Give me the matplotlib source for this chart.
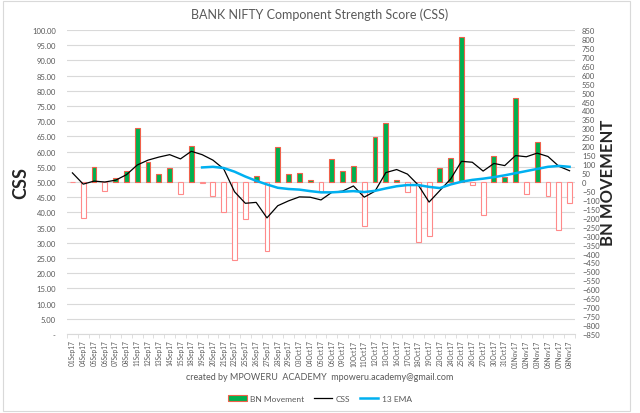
import matplotlib
matplotlib.use("Agg")
import matplotlib.pyplot as plt
import numpy as np
from matplotlib.patches import Patch, Rectangle
from matplotlib.lines import Line2D
from matplotlib.ticker import FuncFormatter

plt.rcParams['font.family'] = ['Lato', 'DejaVu Sans']

dates = ['01Sep17', '04Sep17', '05Sep17', '06Sep17', '07Sep17', '08Sep17', '11Sep17',
         '12Sep17', '13Sep17', '14Sep17', '15Sep17', '18Sep17', '19Sep17', '20Sep17',
         '21Sep17', '22Sep17', '25Sep17', '26Sep17', '27Sep17', '28Sep17', '29Sep17',
         '03Oct17', '04Oct17', '05Oct17', '06Oct17', '09Oct17', '10Oct17', '11Oct17',
         '12Oct17', '13Oct17', '16Oct17', '17Oct17', '18Oct17', '19Oct17', '23Oct17',
         '24Oct17', '25Oct17', '26Oct17', '27Oct17', '30Oct17', '31Oct17', '01Nov17',
         '02Nov17', '03Nov17', '06Nov17', '07Nov17', '08Nov17']

# BN movement (right axis, points)
bn_move = [0, -200, 86, -52, 25, 63, 300, 113, 45, 78, -69, 200, -7, -76,
           -170, -434, -209, 34, -388, 194, 43, 50, 11, -58, 129, 61, 91, -244,
           251, 328, 13, -58, -334, -304, 78, 132, 810, -17, -186, 146, 28, 468,
           -69, 223, -80, -270, -117]

# CSS (left axis)
css = [53.0, 49.3, 50.3, 50.0, 50.6, 52.4, 55.6, 57.2, 58.2, 59.0, 57.6, 60.1,
       59.0, 57.2, 54.3, 46.8, 43.0, 43.3, 38.2, 42.2, 43.8, 45.1, 45.0, 44.1,
       46.6, 47.0, 48.7, 45.0, 47.0, 53.1, 54.1, 52.6, 49.0, 43.4, 47.2, 51.0,
       56.8, 56.5, 53.6, 56.1, 55.4, 58.7, 58.3, 59.5, 58.4, 55.2, 53.7]

# 13 EMA, starts on 19Sep17
ema = [None] * 12 + [54.8, 55.0, 54.6, 53.4, 51.8, 50.4, 49.2, 48.1, 47.7, 47.5,
                     47.0, 46.6, 46.6, 46.8, 47.0, 46.7, 47.1, 47.9, 48.6, 49.0,
                     49.0, 48.4, 48.0, 49.2, 50.1, 50.7, 51.1, 51.6, 52.2, 52.9,
                     53.6, 54.3, 55.0, 55.3, 55.0]

grey = '#595959'
green = '#00B050'
pos_edge = '#F0604A'
neg_edge = '#FF8A8A'

x = np.arange(len(dates))
fig = plt.figure(figsize=(6.4, 4.14), dpi=100)
rect = [0.1047, 0.1908, 0.7937, 0.7343]
ax = fig.add_axes(rect)
ax2 = ax.twinx()
ax3 = fig.add_axes(rect, sharex=ax, sharey=ax)
ax3.patch.set_visible(False)
ax3.axis('off')

# grid / left axis
ax.set_ylim(0, 100)
ax.set_yticks(np.arange(0, 101, 5))
ax.yaxis.set_major_formatter(FuncFormatter(lambda v, p: ' -' if v == 0 else f'{v:.2f}'))
ax.grid(axis='y', color='#D9D9D9', linewidth=0.8)
ax.set_axisbelow(True)
ax.tick_params(axis='y', length=0, labelsize=5.5, labelcolor=grey, pad=8)
ax.set_xlim(-0.5, len(dates) - 0.5)
ax.set_xticks(x)
ax.set_xticklabels(dates, rotation=90, fontsize=4.7, color=grey)
ax.set_xticks(np.arange(-0.5, len(dates), 1), minor=True)
ax.tick_params(axis='x', which='major', length=0, pad=4)
ax.tick_params(axis='x', which='minor', length=3, color='#D9D9D9')
for s in ['top', 'left', 'right']:
    ax.spines[s].set_visible(False)
ax.spines['bottom'].set_color('#D9D9D9')
ax.set_ylabel('CSS', fontsize=13, fontweight='bold', color='#262626', labelpad=2)

# bars on right axis
bn = np.array(bn_move)
fc = [green if v > 0 else 'white' for v in bn]
ec = [pos_edge if v > 0 else neg_edge for v in bn]
ax2.bar(x, bn, width=0.45, color=fc, edgecolor=ec, linewidth=0.8)
ax2.set_ylim(-850, 850)
ax2.set_yticks(np.arange(-850, 851, 50))
ax2.tick_params(axis='y', length=0, labelsize=5.5, labelcolor=grey, pad=5)
for s in ax2.spines.values():
    s.set_visible(False)
ax2.set_ylabel('BN MOVEMENT', fontsize=12, fontweight='bold', color='#262626',
               rotation=90, labelpad=0)

# lines on top
ax3.plot(x, css, color='black', linewidth=0.9)
ema_y = np.array([np.nan if v is None else v for v in ema], dtype=float)
ax3.plot(x, ema_y, color='#00B0F0', linewidth=1.8)

fig.text(0.5, 0.964, 'BANK NIFTY Component Strength Score (CSS)', ha='center',
         va='center', fontsize=9, color=grey)
fig.text(0.5, 0.089, 'created by MPOWERU  ACADEMY  mpoweru.academy@gmail.com',
         ha='center', va='center', fontsize=6.5, color=grey)

handles = [Patch(facecolor=green, edgecolor=pos_edge, linewidth=0.8),
           Line2D([], [], color='black', linewidth=0.9),
           Line2D([], [], color='#00B0F0', linewidth=1.8)]
fig.legend(handles, ['BN Movement', 'CSS', '13 EMA'], loc='center',
           bbox_to_anchor=(0.5, 0.036), ncol=3, frameon=False, fontsize=6,
           handlelength=2.2, columnspacing=1.2, handletextpad=0.4,
           labelcolor=grey)

fig.patches.append(Rectangle((0.004, 0.006), 0.98, 0.99, transform=fig.transFigure,
                             fill=False, edgecolor='#D9D9D9', linewidth=0.8))

fig.savefig('out.png', dpi=100)
